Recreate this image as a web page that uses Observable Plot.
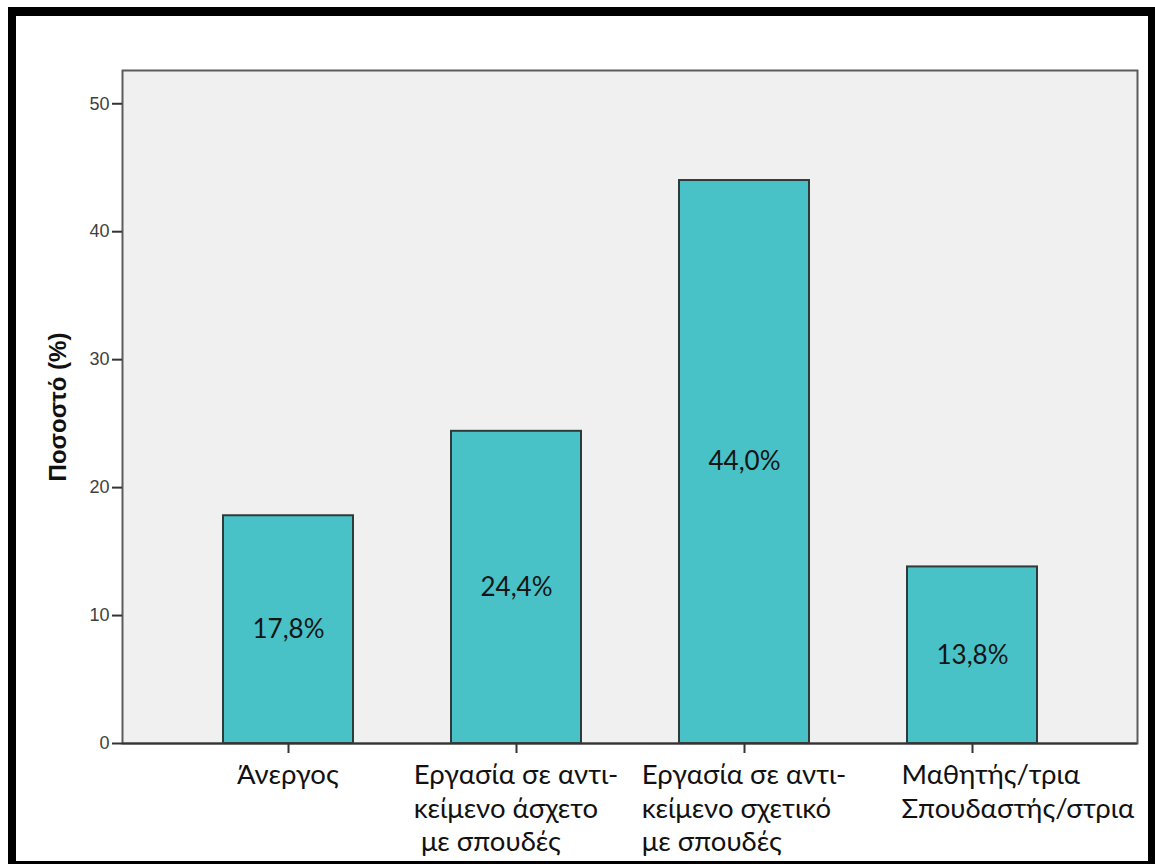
<!DOCTYPE html>
<html>
<head>
<meta charset="utf-8">
<script src="https://cdn.jsdelivr.net/npm/d3@7"></script>
<script src="https://cdn.jsdelivr.net/npm/@observablehq/plot@0.6"></script>
<style>
  html, body { margin: 0; padding: 0; background: #fff; }
  #page { position: relative; width: 1155px; height: 864px; overflow: hidden; background: #fff; }
  #border { position: absolute; left: 8px; top: 7px; width: 1147px; height: 857px; box-sizing: border-box;
            border-style: solid; border-color: #000; border-width: 9px 7px 3px 8px; }
  #chart { position: absolute; left: 0; top: 0; }
</style>
</head>
<body>
<div id="page"><div id="border"></div><div id="chart"></div></div>
<script>
const categories = ["Άνεργος", "Εργασία σε αντι-\nκείμενο άσχετο\n με σπουδές", "Εργασία σε αντι-\nκείμενο σχετικό\nμε σπουδές", "Μαθητής/τρια\nΣπουδαστής/στρια"];
const values = [17.8, 24.4, 44.0, 13.8];
const valueLabels = ["17,8%", "24,4%", "44,0%", "13,8%"];
const yTicks = [0, 10, 20, 30, 40, 50];
const yTitle = "Ποσοστό (%)";

const data = categories.map((c, i) => ({cat: c, v: values[i], lab: valueLabels[i]}));

const plot = Plot.plot({
  width: 1155,
  height: 864,
  marginLeft: 122,
  marginRight: 18,
  marginTop: 70,
  marginBottom: 121,
  style: {background: "transparent", overflow: "visible"},
  x: {domain: categories, paddingInner: 0.431, paddingOuter: 0.438, label: null},
  y: {domain: [0, 52.6], label: null},
  marks: [
    Plot.frame({fill: "#f0f0f0", stroke: null}),
    Plot.barY(data, {x: "cat", y: "v", fill: "#48c2c6", stroke: "#2f3a3a", strokeWidth: 2}),
    Plot.text(data, {x: "cat", y: d => d.v / 2, text: "lab", fontSize: 26, fontFamily: "Lato", fill: "#151515"}),
    Plot.frame({stroke: "#5c5c5c", strokeWidth: 2}),
    Plot.ruleY([0], {stroke: "#333", strokeWidth: 2}),
    Plot.axisY({ticks: yTicks, tickSize: 10, tickPadding: 3, fontSize: 18, fontFamily: "Liberation Sans, Arial, sans-serif",
                fill: "#404040", stroke: "#333", strokeWidth: 2, label: null}),
    Plot.axisX({tickSize: 10, tickPadding: 7, fontSize: 27.5, fontFamily: "Lato", fill: "#111", stroke: "#333", strokeWidth: 2,
                textAnchor: "start", lineAnchor: "top", lineHeight: 1.22, label: null}),
    Plot.text([yTitle], {frameAnchor: "left", dx: -64, rotate: -90, textAnchor: "middle", text: d => d, fontSize: 24, fontWeight: "bold",
                fontFamily: "Liberation Sans, Arial, sans-serif", fill: "#111"})
  ]
});

document.getElementById("chart").appendChild(plot);

// Center each multi-line x label as a left-aligned block; the last one is pushed against the frame's right edge
const xs = plot.scale("x");
const rightEdge = Math.max(xs.range[0], xs.range[1]);
const svgLeft = plot.getBoundingClientRect().left;
const labels = d3.select(plot).selectAll('g[aria-label="x-axis tick label"] text').nodes();
labels.forEach((node, i) => {
  const r = node.getBoundingClientRect();
  const w = r.width;
  const curLeft = r.left - svgLeft;
  const center = xs.apply(categories[i]) + xs.bandwidth / 2;
  const desired = i === labels.length - 1 ? rightEdge - w - 2 : center - w / 2;
  const shift = desired - curLeft;
  node.setAttribute("transform", (node.getAttribute("transform") || "") + ` translate(${shift},0)`);
});
</script>
</body>
</html>
